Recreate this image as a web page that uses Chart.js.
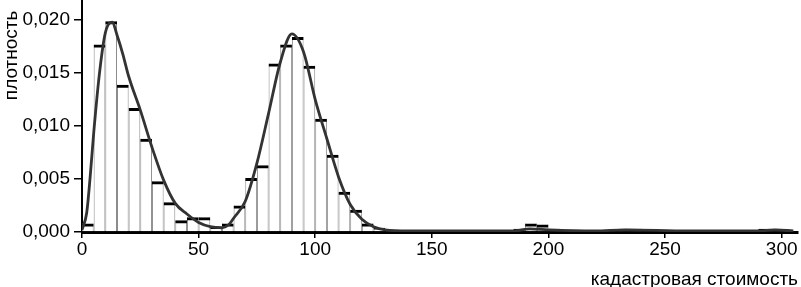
<!DOCTYPE html>
<html>
<head>
<meta charset="utf-8">
<script src="https://cdn.jsdelivr.net/npm/chart.js@4/dist/chart.umd.min.js"></script>
<style>
html,body{margin:0;padding:0;background:#fff;}
#wrap{width:801px;height:287px;position:relative;}
</style>
</head>
<body>
<div id="wrap"><canvas id="c"></canvas></div>
<script>
// Histogram bins (midpoints of 5-unit wide bins)
const binMids = [2.5,7.5,12.5,17.5,22.5,27.5,32.5,37.5,42.5,47.5,52.5,57.5,62.5,67.5,72.5,77.5,82.5,87.5,92.5,97.5,
  102.5,107.5,112.5,117.5,122.5,127.5,132.5,137.5,142.5,147.5,152.5,157.5,162.5,167.5,172.5,177.5,182.5,187.5,192.5,197.5,
  202.5,207.5,212.5,217.5,222.5,227.5,232.5,237.5,242.5,247.5,252.5,257.5,262.5,267.5,272.5,277.5,282.5,287.5,292.5,297.5,302.5];
// Histogram densities
const histDensity = [0.0008,0.0177,0.0199,0.0139,0.0117,0.0088,0.0048,0.0028,0.0011,0.0014,0.0014,0.0005,0.0008,0.0025,0.0051,0.0063,0.0159,0.0177,0.0184,0.0157,
  0.0107,0.0073,0.0038,0.0021,0.0008,0.0004,0.0001,0,0,0,0,0,0,0,0,0,0.0001,0.0003,0.0008,0.0007,
  0.0003,0,0,0,0,0,0.0003,0.0003,0,0,0,0,0,0,0,0,0,0,0.0003,0.0003,0];
// Density curve
const curveX = [0,2,3.5,5,7.5,10,13,15,17.5,20,25,30,35,40,45,50,55,60,63,65,70,75,80,85,90,95,100,105,110,115,120,125,130,140,160,185,192,200,220,233,260,290,297,305];
const curveY = [0.0002,0.0018,0.0052,0.0093,0.0150,0.0188,0.0198,0.0186,0.0168,0.0147,0.0115,0.0080,0.0049,0.0027,0.0017,0.0009,0.0005,0.0004,0.0007,0.0013,0.0029,0.0065,0.0112,0.0160,0.0187,0.0170,0.0125,0.0088,0.0052,0.0026,0.0012,0.0005,0.0002,0.0001,0.0001,0.0001,0.0003,0.0002,0.0001,0.0002,0.0001,0.0001,0.0002,0.0001];
// Axis ticks
const xTicks = [0,50,100,150,200,250,300];
const yTicks = [0,0.005,0.010,0.015,0.020];

const histPts = binMids.map((m,i)=>({x:m,y:histDensity[i]}));
const curvePts = curveX.map((x,i)=>({x:x,y:curveY[i]}));
const FONT = {family:"'Liberation Sans', Arial, sans-serif", size:19};
const TFONT = {family:"'Liberation Sans', Arial, sans-serif", size:19, lineHeight:0.8};

new Chart(document.getElementById('c'), {
  type:'bar',
  data:{
    datasets:[
      {type:'line', data:curvePts, borderColor:'#333', borderWidth:2.8, pointRadius:0, fill:false,
       tension:0.4, cubicInterpolationMode:'monotone', order:0},
      {data:histPts, backgroundColor:'rgba(0,0,0,0)', borderColor:'#000',
       borderWidth:{top:3,left:0,right:0,bottom:0}, borderSkipped:false, grouped:false, inflateAmount:0,
       barPercentage:1, categoryPercentage:1, order:1},
      {data:histPts, backgroundColor:'#fff', borderColor:'#8a8a8a',
       borderWidth:{top:0,left:1,right:1,bottom:0}, borderSkipped:false, grouped:false, inflateAmount:0,
       barPercentage:1, categoryPercentage:1, order:2}
    ]
  },
  options:{
    responsive:true, maintainAspectRatio:false, animation:false,
    devicePixelRatio:1,
    layout:{padding:{top:0,right:3,bottom:0,left:0}},
    plugins:{legend:{display:false}, tooltip:{enabled:false}},
    scales:{
      x:{type:'linear', min:0, max:307, offset:false,
        afterBuildTicks:(s)=>{s.ticks = xTicks.map(v=>({value:v}));},
        ticks:{font:FONT, color:'#000', padding:0, maxRotation:0, includeBounds:false},
        grid:{display:true, drawOnChartArea:false, drawTicks:true, tickLength:6, color:'#000', lineWidth:1.5, offset:false},
        border:{display:true, color:'#000', width:3},
        title:{display:true, text:'кадастровая стоимость', align:'end', font:TFONT, color:'#000', padding:{top:0,bottom:0}},
        afterFit:(s)=>{s.height = 55;}
      },
      y:{min:0, max:0.0219,
        afterBuildTicks:(s)=>{s.ticks = yTicks.map(v=>({value:v}));},
        ticks:{font:FONT, color:'#000', padding:4, includeBounds:false,
          callback:(v)=>Number(v).toFixed(3).replace('.',',')},
        grid:{display:true, drawOnChartArea:false, drawTicks:true, tickLength:8, color:'#000', lineWidth:1.5},
        border:{display:true, color:'#000', width:2},
        title:{display:true, text:'плотность\u00a0\u00a0', align:'end', font:FONT, color:'#000', padding:{top:0,bottom:0}},
        afterFit:(s)=>{s.width = 82; s.paddingTop = 0; s.paddingBottom = 0;}
      }
    }
  }
});
</script>
</body>
</html>
